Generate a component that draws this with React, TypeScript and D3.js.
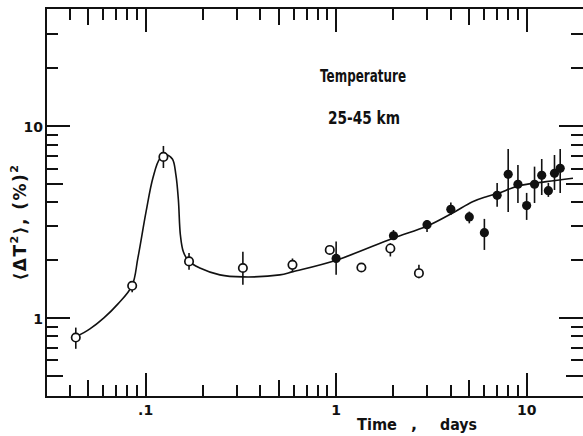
import React from 'react';
import * as d3 from 'd3';

const W = 583;
const H = 436;

// Axis extents (log scales)
const timeDomain = [0.03, 20];
const valueDomain = [0.387, 41.2];

// Tick layout: every integer multiple of each decade
const tickDecades = [0.01, 0.1, 1, 10];
const tickMultipliers = [1, 2, 3, 4, 5, 6, 7, 8, 9];

// Labelled decade ticks
const xLabelValues = [0.1, 1, 10];
const xLabelTexts = ['.1', '1', '10'];
const yLabelValues = [1, 10];
const yLabelTexts = ['1', '10'];

// Early measurements (open circles): time in days, variance with error range
const openTime = [0.043, 0.085, 0.124, 0.169, 0.324, 0.59, 0.926, 1.357, 1.926, 2.72];
const openValue = [0.79, 1.47, 6.9, 1.97, 1.82, 1.89, 2.26, 1.83, 2.3, 1.71];
const openLow = [0.69, 1.36, 6.04, 1.78, 1.49, 1.74, 2.2, 1.74, 2.09, 1.61];
const openHigh = [0.89, 1.5, 7.87, 2.18, 2.21, 2.04, 2.32, 1.93, 2.45, 1.89];

// Daily measurements (filled circles)
const filledTime = [1, 2, 3, 4, 5, 6, 7, 8, 9, 10, 11, 12, 13, 14, 15];
const filledValue = [2.04, 2.68, 3.06, 3.68, 3.36, 2.78, 4.35, 5.6, 4.97, 3.85, 4.97, 5.53, 4.6, 5.67, 6.02];
const filledLow = [1.68, 2.55, 2.8, 3.44, 3.11, 2.26, 3.79, 3.56, 3.97, 3.24, 3.97, 4.37, 4.27, 4.64, 4.48];
const filledHigh = [2.5, 2.87, 3.24, 3.99, 3.58, 3.28, 5.05, 7.59, 6.26, 4.48, 6.14, 6.73, 5.05, 7.06, 7.59];

// Smooth fitted curve
const fitTime = [0.0427, 0.051, 0.0604, 0.0716, 0.0848, 0.0911, 0.1005, 0.1092, 0.1189, 0.1285, 0.1382, 0.1442, 0.1486, 0.1522, 0.1578, 0.1687, 0.1926, 0.2453, 0.3237, 0.506, 0.594, 1.011, 1.988, 3.01, 4.09, 5.2, 6.14, 7.1, 9.03, 12.67, 17.5];
const fitValue = [0.793, 0.876, 1.0, 1.183, 1.468, 2.053, 3.565, 5.36, 6.77, 7.06, 6.73, 5.56, 4.12, 2.71, 2.21, 1.97, 1.82, 1.675, 1.635, 1.675, 1.742, 2.005, 2.6, 3.01, 3.52, 4.03, 4.28, 4.46, 4.87, 5.13, 5.34];

const frame = { left: 46, right: 584, top: 8, bottom: 397 };
const FONT = "'DejaVu Sans', sans-serif";

const allTicks: { v: number; m: number }[] = [];
tickDecades.forEach((d) => tickMultipliers.forEach((m) => allTicks.push({ v: d * m, m })));

function tickLen(m: number) {
  return m === 1 ? 24 : m === 5 ? 17 : 12;
}

export default function App() {
  const x = d3.scaleLog().domain(timeDomain).range([frame.left, frame.right]);
  const y = d3.scaleLog().domain(valueDomain).range([frame.bottom, frame.top]);

  const xTicks = allTicks.filter((t) => x(t.v) > frame.left + 3 && x(t.v) < W - 2);
  const yTicks = allTicks.filter((t) => t.v > 0.45 && t.v < 35);

  const fitPts = fitTime.map((t, i) => [t, fitValue[i]] as [number, number]);
  const line = d3
    .line<[number, number]>()
    .x((d) => x(d[0]))
    .y((d) => y(d[1]))
    .curve(d3.curveCatmullRom.alpha(0.5));

  const ink = '#111';

  return (
    <div style={{ position: 'fixed', left: 0, top: 0 }}>
      <svg width={W} height={H} viewBox={`0 0 ${W} ${H}`} style={{ display: 'block', background: '#fff' }}>
        <rect x={0} y={0} width={W} height={H} fill="#fff" />
        {/* frame */}
        <path
          d={`M${frame.right},${frame.top}H${frame.left}V${frame.bottom}H${frame.right}`}
          fill="none"
          stroke={ink}
          strokeWidth={2}
        />
        {/* tick marks on bottom and top edges, pointing inward */}
        {xTicks.map((t) => (
          <rect key={'xb' + t.v} x={Math.round(x(t.v)) - 1} y={frame.bottom - tickLen(t.m)} width={2} height={tickLen(t.m)} fill={ink} />
        ))}
        {xTicks.map((t) => (
          <rect key={'xtop' + t.v} x={Math.round(x(t.v)) - 1} y={frame.top} width={2} height={tickLen(t.m)} fill={ink} />
        ))}
        {/* tick marks on left and right edges, pointing inward */}
        {yTicks.map((t) => (
          <rect key={'yl' + t.v} x={frame.left} y={Math.round(y(t.v)) - 1} width={tickLen(t.m)} height={2} fill={ink} />
        ))}
        {yTicks.map((t) => (
          <rect key={'yr' + t.v} x={W - tickLen(t.m)} y={Math.round(y(t.v)) - 1} width={tickLen(t.m)} height={2} fill={ink} />
        ))}
        {/* tick labels */}
        {xLabelValues.map((t, i) => (
          <text key={'xl' + t} x={x(t)} y={415} textAnchor="middle" fontFamily={FONT} fontWeight="bold" fontSize={14} fill={ink}>
            {xLabelTexts[i]}
          </text>
        ))}
        {yLabelValues.map((v, i) => (
          <text key={'ylab' + v} x={43} y={y(v) + 6} textAnchor="end" fontFamily={FONT} fontWeight="bold" fontSize={14} fill={ink}>
            {yLabelTexts[i]}
          </text>
        ))}
        {/* axis titles */}
        <text x={357} y={430} textLength={40} lengthAdjust="spacingAndGlyphs" fontFamily={FONT} fontWeight="bold" fontSize={16} fill={ink}>
          Time
        </text>
        <text x={411} y={430} fontFamily={FONT} fontWeight="bold" fontSize={16} fill={ink}>
          ,
        </text>
        <text x={440} y={430} textLength={37} lengthAdjust="spacingAndGlyphs" fontFamily={FONT} fontWeight="bold" fontSize={16} fill={ink}>
          days
        </text>
        <text
          transform="translate(26,222) rotate(-90)"
          textAnchor="middle"
          fontFamily={FONT}
          fontWeight="bold"
          fontSize={17}
          letterSpacing={1.5}
          fill={ink}
        >
          ⟨ΔT<tspan dy={-8} fontSize={11}>2</tspan>
          <tspan dy={8}>⟩, (%)</tspan>
          <tspan dy={-8} fontSize={11}>2</tspan>
        </text>
        {/* annotation */}
        <text x={320} y={82} textLength={86} lengthAdjust="spacingAndGlyphs" fontFamily={FONT} fontWeight="bold" fontSize={18} fill={ink}>
          Temperature
        </text>
        <text x={328} y={124} textLength={72} lengthAdjust="spacingAndGlyphs" fontFamily={FONT} fontWeight="bold" fontSize={17} fill={ink}>
          25-45 km
        </text>
        {/* fitted curve */}
        <path d={line(fitPts) || ''} fill="none" stroke={ink} strokeWidth={1.6} />
        {/* error bars */}
        {openTime.map((t, i) => (
          <line key={'oe' + i} x1={x(t)} x2={x(t)} y1={y(openLow[i])} y2={y(openHigh[i])} stroke={ink} strokeWidth={1.6} />
        ))}
        {filledTime.map((t, i) => (
          <line key={'fe' + i} x1={x(t)} x2={x(t)} y1={y(filledLow[i])} y2={y(filledHigh[i])} stroke={ink} strokeWidth={1.6} />
        ))}
        {/* markers */}
        {openTime.map((t, i) => (
          <circle key={'o' + i} cx={x(t)} cy={y(openValue[i])} r={4.2} fill="#fff" stroke={ink} strokeWidth={1.7} />
        ))}
        {filledTime.map((t, i) => (
          <circle key={'f' + i} cx={x(t)} cy={y(filledValue[i])} r={4.6} fill={ink} />
        ))}
      </svg>
    </div>
  );
}
